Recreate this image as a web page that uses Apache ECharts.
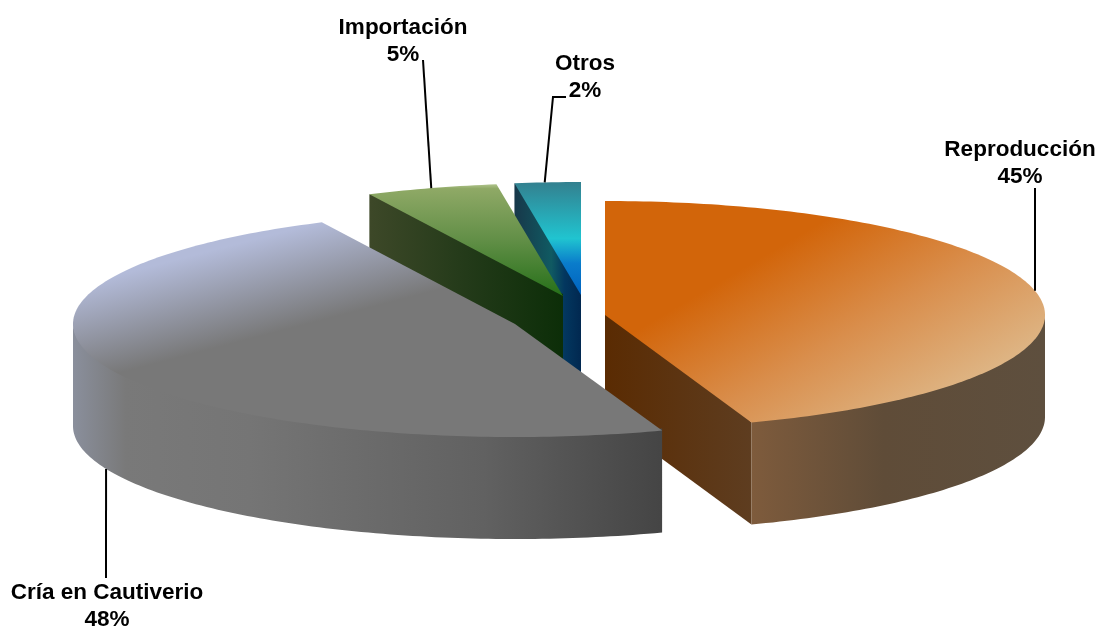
<!DOCTYPE html>
<html>
<head>
<meta charset="utf-8">
<style>html,body{margin:0;padding:0;background:#fff}#c{width:1099px;height:630px}</style>
<script src="https://cdn.jsdelivr.net/npm/echarts@6/dist/echarts.min.js"></script>
</head>
<body>
<div id="c"></div>
<script>
// Data
const categories = ['Reproducción', 'Cría en Cautiverio', 'Importación', 'Otros'];
const shares = [44.6, 48.2, 4.8, 2.4];
const percentLabels = ['45%', '48%', '5%', '2%'];

// Layout and style (one entry per category)
const DEPTH = 102;
const centres = [[605, 315], [515, 324], [563, 296], [581, 295]];
const radiusX = [440, 442, 443, 443];
const radiusY = [114, 113, 113, 113];
const stacking = [3, 4, 2, 1];
const labelPos = [[1020, 163], [107, 606], [403, 41], [585, 77]];
const leaderAngle = [77.76, 247.7, 342.7, 355.3];
const leaderOnBase = [false, true, false, false];
const leaderFrom = [[[1035, 188]], [[106, 578]], [[423, 60]], [[566, 97], [553, 97]]];
const topGrad = [
  [723, 280, 833, 468, [[0, '#D2650A'], [0.5, '#D98E4C'], [1, '#DEB686']]],
  [321, 222, 345, 314, [[0, '#B3BBD9'], [1, '#787878']]],
  [0, 183, 0, 296, [[0, '#B9CB97'], [0.05, '#8FA966'], [0.5, '#628F47'], [1, '#267019']]],
  [0, 182, 0, 295, [[0, '#33808F'], [0.5, '#20C4D0'], [0.72, '#0A7CCB'], [1, '#0062BF']]]
];
const rimGrad = [
  [752, 0, 1045, 0, [[0, '#7E5B3C'], [0.45, '#5F4C38'], [1, '#5E4F3E']]],
  [73, 0, 660, 0, [[0, '#8A8F9C'], [0.09, '#797979'], [0.3, '#757575'], [0.7, '#616161'], [1, '#454545']]],
  null, null
];
const cutGrad = [
  [605, 0, 752, 0, [[0, '#5A2B02'], [1, '#5E3D20']]],
  null,
  [370, 0, 563, 0, [[0, '#3D4828'], [0.5, '#233A19'], [1, '#0C2E08']]],
  [515, 0, 581, 0, [[0, '#17384A'], [0.55, '#105A62'], [0.75, '#03375F'], [1, '#012850']]]
];

const rad = d => d * Math.PI / 180;
const starts = [];
shares.reduce((sum, v, i) => { starts[i] = sum; return sum + v; }, 0);
const total = shares.reduce((a, b) => a + b, 0);
const toAngle = v => v / total * 360;

function rimPoint(i, deg, dy) {
  return [
    centres[i][0] + radiusX[i] * Math.sin(rad(deg)),
    centres[i][1] - radiusY[i] * Math.cos(rad(deg)) + (dy || 0)
  ];
}
function arc(i, a, b, dy) {
  const pts = [], n = Math.max(2, Math.ceil(Math.abs(b - a)));
  for (let k = 0; k <= n; k++) pts.push(rimPoint(i, a + (b - a) * k / n, dy));
  return pts;
}
function grad(g) {
  return new echarts.graphic.LinearGradient(g[0], g[1], g[2], g[3],
    g[4].map(s => ({ offset: s[0], color: s[1] })), true);
}

function renderSlice(params, api) {
  const i = params.dataIndex;
  const a = toAngle(starts[i]);
  const b = a + toAngle(api.value(0));
  const c = centres[i];
  const z2 = stacking[i];
  const children = [];
  const poly = (points, fill) => children.push({
    type: 'polygon', z2, shape: { points },
    style: { fill, stroke: null }
  });
  const cut = deg => {
    const p = rimPoint(i, deg);
    // the wall's upper edge runs just under the top face so no pale seam shows
    const inner = [p[0] + (c[0] - p[0]) * 0.03, p[1] + (c[1] - p[1]) * 0.03 - 2];
    poly([[c[0], c[1] - 2], inner, p, [p[0], p[1] + DEPTH], [c[0], c[1] + DEPTH]], grad(cutGrad[i]));
  };
  if (Math.sin(rad(b)) > 0.01 && cutGrad[i]) cut(b);
  if (Math.sin(rad(a)) < -0.01 && cutGrad[i]) cut(a);
  // outer wall: only the part of the rim that faces the viewer
  const fa = Math.max(a, 90), fb = Math.min(b, 270);
  if (fb > fa && rimGrad[i]) {
    poly(arc(i, fa, fb, -2).concat(arc(i, fb, fa, DEPTH)), grad(rimGrad[i]));
  }
  poly([c].concat(arc(i, a, b, 0)), grad(topGrad[i]));
  // leader line
  const end = rimPoint(i, leaderAngle[i], leaderOnBase[i] ? DEPTH : 0);
  children.push({
    type: 'polyline', z2: 10,
    shape: { points: leaderFrom[i].concat([end]) },
    style: { stroke: '#000', lineWidth: 2, fill: null }
  });
  children.push({
    type: 'text', z2: 11,
    style: {
      text: categories[i] + '\n' + percentLabels[i],
      x: labelPos[i][0], y: labelPos[i][1],
      align: 'center', verticalAlign: 'middle',
      font: 'bold 22.5px "Liberation Sans", Arial, sans-serif',
      lineHeight: 27, fill: '#000'
    }
  });
  return { type: 'group', children };
}

const chart = echarts.init(document.getElementById('c'), null, { renderer: 'canvas' });
chart.setOption({
  animation: false,
  backgroundColor: '#fff',
  series: [{
    type: 'custom',
    coordinateSystem: 'none',
    silent: true,
    renderItem: renderSlice,
    data: shares.map((v, i) => ({ name: categories[i], value: [v] }))
  }]
});
</script>
</body>
</html>
